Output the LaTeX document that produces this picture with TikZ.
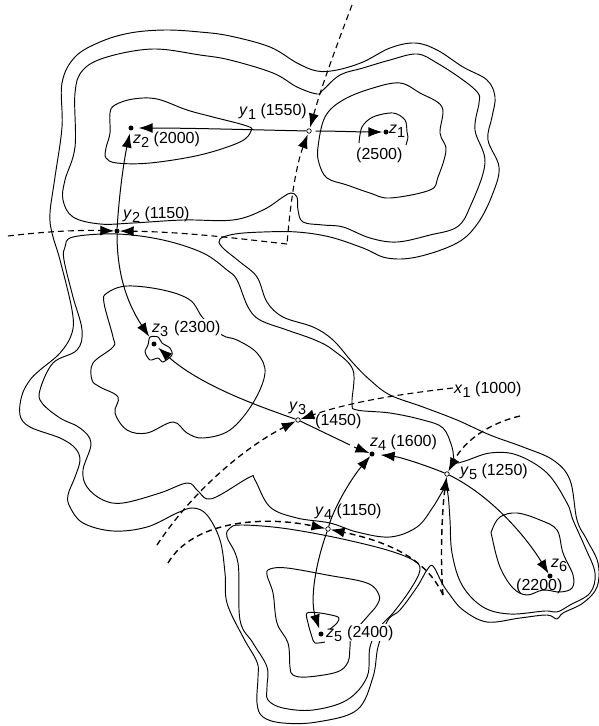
\documentclass[tikz,border=0pt]{standalone}
\usepackage{fontspec}
\setmainfont{Liberation Sans}
\usetikzlibrary{arrows.meta}
\newcommand{\vn}[2]{\textit{#1}\raisebox{-0.3em}{\fontsize{14.5}{14.5}\selectfont #2}}
\tikzset{
  contour/.style={line width=0.95pt,line join=round},
  ridge/.style={line width=1.1pt,dash pattern=on 6pt off 4pt},
  heavyridge/.style={ridge,line width=1.4pt},
  conn/.style={line width=1pt},
  tipped/.style={-{Latex[length=14pt,width=10pt]}},
  tippedback/.style={{Latex[length=14pt,width=10pt]}-},
  zdot/.style={circle,fill=black,inner sep=0pt,minimum size=5pt},
  ydot/.style={circle,draw=black,fill=white,line width=0.7pt,inner sep=0pt,minimum size=4.5pt},
  lab/.style={anchor=base west,inner sep=0pt,font=\fontsize{16}{18}\selectfont},
  gaplab/.style={lab,fill=white,inner sep=1pt},
}
\begin{document}
\begin{tikzpicture}[x=1pt,y=-1pt]
\useasboundingbox (0,0) rectangle (599,726);
% outermost contour
\draw[contour] plot[smooth cycle,tension=0.6] coordinates {
 (165,30)(200,32)(230,36)(270,47)(297,63)(317,71)(337,70)(363,62)(390,48)(415,43)(437,50)(463,67)(487,80)(495,97)(492,117)(488,140)(499,167)(493,193)(478,223)(457,243)(417,257)(387,258)(363,248)(330,237)(297,232)(263,232)(235,234)(220,239)(222,247)(240,262)(257,277)(267,302)(283,317)(313,327)(333,340)(353,363)(370,380)(390,395)(423,407)(457,420)(490,435)(523,447)(553,460)(570,480)(577,520)(587,540)(598,563)(597,587)(583,603)(563,613)(557,619)(547,615)(520,618)(487,622)(463,610)(450,595)(442,583)(433,566)(427,570)(417,587)(400,610)(388,620)(378,647)(373,677)(357,710)(317,722)(283,723)(263,717)(257,703)(258,677)(257,662)(243,637)(227,603)(225,573)(220,540)(207,515)(193,508)(177,513)(147,527)(113,531)(83,523)(70,507)(68,495)(75,477)(80,460)(75,448)(60,438)(30,427)(20,415)(22,395)(30,380)(40,370)(60,353)(72,333)(72,310)(60,260)(52,233)(50,213)(55,177)(62,127)(62,83)(75,57)(100,42)(130,33)};
% second contour, lower part
\draw[contour] plot[smooth cycle,tension=0.6] coordinates {
 (73,237)(117,234)(163,240)(203,253)(227,270)(237,280)(248,307)(260,320)(287,330)(315,340)(333,350)(353,370)(352,403)(357,410)(390,413)(423,420)(443,428)(452,447)(455,462)(465,461)(490,453)(517,455)(547,473)(567,503)(573,520)(585,547)(595,573)(590,593)(570,605)(557,612)(545,611)(510,614)(483,607)(462,585)(452,553)(450,520)(448,495)(445,488)(433,507)(417,527)(390,537)(357,532)(330,523)(297,518)(270,507)(255,480)(250,477)(220,495)(207,499)(197,490)(187,483)(160,493)(123,503)(103,500)(87,487)(83,470)(91,443)(80,428)(60,418)(42,403)(40,390)(53,363)(77,350)(82,330)(73,297)(64,260)(65,247)};
% second contour, top part
\draw[contour] plot[smooth cycle,tension=0.6] coordinates {
 (75,93)(83,70)(107,57)(153,49)(200,55)(230,60)(273,73)(297,87)(317,94)(323,90)(340,75)(363,68)(390,60)(417,54)(437,63)(463,80)(478,93)(479,103)(475,130)(485,163)(470,207)(457,227)(430,235)(397,242)(370,238)(343,227)(323,225)(303,222)(298,210)(297,197)(291,193)(283,197)(263,210)(233,220)(183,220)(133,223)(100,224)(73,217)(63,200)(65,180)(75,147)};
% lower lobe, second contour
\draw[contour] plot[smooth cycle,tension=0.6] coordinates {
 (227,537)(230,528)(240,525)(273,527)(307,532)(347,540)(387,550)(413,560)(420,570)(410,590)(393,613)(380,627)(370,647)(367,677)(347,700)(313,710)(283,708)(268,700)(267,687)(267,667)(253,643)(240,620)(238,563)};
% third level
\draw[contour] plot[smooth cycle,tension=0.6] coordinates {
 (267,575)(270,569)(287,568)(327,575)(367,583)(379,595)(377,605)(367,617)(352,635)(350,647)(348,662)(337,672)(307,677)(293,675)(290,667)(288,643)(277,623)(273,593)};
\draw[contour] plot[smooth cycle,tension=0.6] coordinates {
 (110,113)(115,105)(133,99)(157,99)(187,110)(213,117)(247,126)(251,131)(240,142)(200,155)(150,163)(117,163)(106,158)(106,148)(110,133)};
\draw[contour] plot[smooth cycle,tension=0.6] coordinates {
 (318,147)(325,117)(343,100)(373,88)(400,83)(420,93)(442,107)(440,133)(446,150)(438,177)(430,190)(390,198)(370,193)(347,185)(327,178)(319,163)};
\draw[contour] plot[smooth cycle,tension=0.6] coordinates {
 (203,318)(190,300)(163,290)(127,286)(107,293)(104,303)(113,337)(113,347)(93,363)(92,380)(100,387)(118,397)(115,413)(127,430)(147,433)(173,422)(187,433)(203,438)(230,430)(253,403)(265,373)(257,353)(237,340)(222,335)};
\draw[contour] plot[smooth cycle,tension=0.6] coordinates {
 (492,530)(500,517)(517,513)(540,520)(557,530)(563,553)(573,575)(572,588)(560,592)(543,590)(527,595)(513,588)(500,567)(492,537)};
% innermost contours, open at their labels
\draw[contour] plot[smooth,tension=0.55] coordinates {
 (359,143)(362,127)(373,117)(393,113)(405,120)(407,132)(408,137)(406,145)};
% labels that interrupt contours
\node[gaplab] (l2300) at (173,332) {(2300)};
\node[gaplab] (l2400) at (346,637) {(2400)};
\node[gaplab] (lz5) at (325,637) {\vn{z}{5}};
% innermost contours not interrupted
\draw[contour] plot[smooth cycle,tension=0.45] coordinates {
 (150,337)(148,345)(145,352)(150,360)(158,358)(163,362)(172,355)(170,348)(162,343)(158,337)};
\draw[contour] plot[smooth,tension=0.5] coordinates {
 (325,642)(315,643)(312,637)(308,623)(307,613)(320,613)(338,617)(337,623)(330,629)};
% labels (under the connectors)
\node[lab] (ly1) at (239,115) {\vn{y}{1} (1550)};
\node[lab] (lz2) at (133,143) {\vn{z}{2} (2000)};
\node[lab] (ly2) at (123,218) {\vn{y}{2} (1150)};
\node[lab] (lz1) at (389,133) {\vn{z}{1}};
\node[gaplab,inner sep=0pt] (l2500) at (356,159) {(2500)};
\node[lab] (lz3) at (152,332) {\vn{z}{3}};
\node[lab] (ly3) at (289,410) {\vn{y}{3}};
\node[lab] (l1450) at (315,425) {(1450)};
\node[lab] (lx1) at (454,393) {\vn{x}{1} (1000)};
\node[lab] (lz4) at (370,446) {\vn{z}{4} (1600)};
\node[lab] (ly5) at (460,475) {\vn{y}{5} (1250)};
\node[lab] (ly4) at (315,515) {\vn{y}{4} (1150)};
\node[lab] (lz6) at (551,567) {\vn{z}{6}};
\node[lab] (l2200) at (516,590) {(2200)};
% peaks and passes
\node[zdot] (z1) at (386,132) {};
\node[zdot] (z2) at (131,128) {};
\node[zdot] (z3) at (154,344) {};
\node[zdot] (z4) at (372,454) {};
\node[zdot] (z5) at (321,634) {};
\node[zdot] (z6) at (550,576) {};
\node[ydot] (y1) at (309,131) {};
\node[zdot] (y2) at (117,231) {};
\node[ydot] (y3) at (298,420) {};
\node[ydot] (y4) at (328,529) {};
\node[ydot] (y5) at (447,474) {};
\coordinate (rtop) at (352,5);
\coordinate (rleft) at (8,236);
\coordinate (rcorner) at (287,244);
\coordinate (rx) at (453,388);
\coordinate (rlow) at (157,545);
\coordinate (rne) at (520,416);
\coordinate (rsouth) at (443,595);
\coordinate (rsw) at (168,563);
\coordinate (gapA) at (350,445);
\coordinate (gapB) at (354,447);
% dashed ridge lines
\draw[ridge,tipped,shorten >=1pt] (rtop) .. controls (335,50) and (322,85) .. (y1);
\draw[ridge,tippedback,shorten <=1pt] (y1) .. controls (297,163) and (291,195) .. (rcorner);
\draw[ridge,tipped] (rcorner) .. controls (250,240) and (190,232) .. (y2);
\draw[ridge,tipped] (rleft) .. controls (50,231) and (80,230) .. (y2);
\draw[ridge,tipped] (rx) .. controls (400,394) and (350,402) .. (y3);
\draw[ridge,line width=1.3pt,tipped] (rlow) .. controls (190,495) and (240,450) .. (y3);
\draw[ridge,line width=1.3pt,tipped] (rne) .. controls (490,423) and (465,440) .. (y5);
\draw[heavyridge,tipped] (rsouth) .. controls (440,560) and (442,510) .. (y5);
\draw[heavyridge,tipped] (rsw) .. controls (192,522) and (260,515) .. (y4);
\draw[heavyridge,tipped] (rsouth) .. controls (425,555) and (380,540) .. (y4);
% ascent connectors
\draw[conn,tipped,shorten >=5pt] (y1) .. controls (260,130) and (190,128) .. (z2);
\draw[conn,tipped,shorten >=1pt,shorten <=4pt] (y1) .. controls (335,131) and (360,132) .. (z1);
\draw[conn,tipped,shorten >=3pt] (y2) .. controls (119,195) and (124,160) .. (z2);
\draw[conn,tipped,shorten >=6pt] (y2) .. controls (117,270) and (125,300) .. (z3);
\draw[conn,tipped,shorten >=3pt] (y3) .. controls (255,405) and (200,385) .. (z3);
\draw[conn] (y3) -- (gapA);
\draw[conn,tipped] (gapB) -- (z4);
\draw[conn,tipped,shorten >=6pt] (y5) .. controls (425,465) and (400,457) .. (z4);
\draw[conn,tipped] (y4) .. controls (333,510) and (350,480) .. (z4);
\draw[conn,tipped,shorten >=3pt] (y4) .. controls (315,565) and (310,600) .. (z5);
\draw[conn,tipped] (y5) .. controls (490,495) and (525,535) .. (z6);
\end{tikzpicture}
\end{document}
